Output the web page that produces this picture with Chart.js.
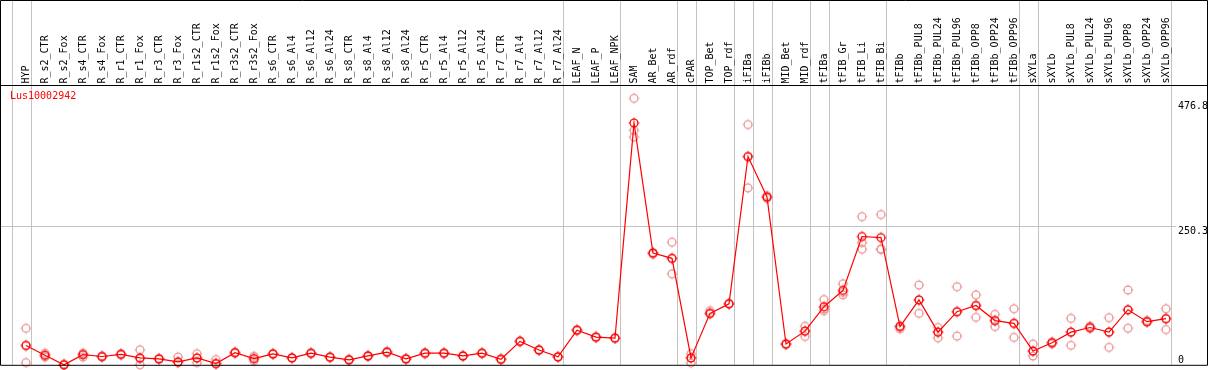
<!DOCTYPE html>
<html>
<head>
<meta charset="utf-8">
<title>Lus10002942</title>
<script src="https://cdn.jsdelivr.net/npm/chart.js@4"></script>
<style>
  body { margin: 0; background: #fff; }
  canvas { display: block; }
</style>
</head>
<body>
<canvas id="chart-canvas" width="1209" height="370"></canvas>
<script>
let geneName = "Lus10002942";

let samples = ["HYP", "R_s2_CTR", "R_s2_Fox", "R_s4_CTR", "R_s4_Fox", "R_r1_CTR", "R_r1_Fox",
  "R_r3_CTR", "R_r3_Fox", "R_r1s2_CTR", "R_r1s2_Fox", "R_r3s2_CTR", "R_r3s2_Fox",
  "R_s6_CTR", "R_s6_Al4", "R_s6_Al12", "R_s6_Al24", "R_s8_CTR", "R_s8_Al4", "R_s8_Al12", "R_s8_Al24",
  "R_r5_CTR", "R_r5_Al4", "R_r5_Al12", "R_r5_Al24", "R_r7_CTR", "R_r7_Al4", "R_r7_Al12", "R_r7_Al24",
  "LEAF_N", "LEAF_P", "LEAF_NPK", "SAM", "AR_Bet", "AR_rdf", "cPAR", "TOP_Bet", "TOP_rdf",
  "iFIBa", "iFIBb", "MID_Bet", "MID_rdf", "tFIBa", "tFIB_Gr", "tFIB_Li", "tFIB_Bi", "tFIBb",
  "tFIBb_PUL8", "tFIBb_PUL24", "tFIBb_PUL96", "tFIBb_OPP8", "tFIBb_OPP24", "tFIBb_OPP96",
  "sXYLa", "sXYLb", "sXYLb_PUL8", "sXYLb_PUL24", "sXYLb_PUL96", "sXYLb_OPP8", "sXYLb_OPP24", "sXYLb_OPP96"];

// mean expression (red line)
let meanValues = [35, 17.3, 0, 18.4, 15, 19, 12.5, 10.7, 5.4, 12.5, 2.3, 22, 11.3,
  19.7, 12.5, 21, 13.8, 9, 16, 23, 10.7, 21, 21, 16, 21, 10, 42.4, 26.8, 14.3,
  62.6, 50, 48.3, 437.5, 202, 192.6, 12.5, 93, 110.3, 376.7, 303.4, 37.5, 60.8, 105, 134.6, 232, 230, 69.2,
  117.5, 59, 96, 107.3, 80, 75, 25, 39.9, 59, 67.4, 59, 99.6, 78, 83.5];

// single replicates (pale circles)
let rep1 = [66, 21, 1, 21, 16, 20, 27, 11.5, 14, 20, 9.5, 23, 15.5,
  20.5, 13, 22, 14.5, 10, 17, 24, 11.5, 22, 22, 17, 22, 11, 43, 27.5, 15,
  63.5, 51, 49, 482, 203, 221.7, 20, 97.8, 111, 434.5, 306, 38.5, 69.7, 118, 146.6, 268, 271.8, 70.5,
  144.3, 67.5, 141.2, 126.4, 91.2, 101.4, 37.5, 41, 84, 70, 85.3, 135.3, 80, 101.4];
let rep2 = [4, 14, 0, 14, 14, 18, 0, 10, 4, 4, 2, 21, 7,
  19, 12, 20, 13, 8.5, 15, 22, 10, 20.5, 20.5, 15.5, 20.5, 9.5, 42, 26, 14,
  62, 49.5, 48, 424, 200, 164.5, 3.6, 92, 110, 320, 301, 37, 51.3, 97.8, 126.4, 221, 209, 65,
  93, 48.8, 51.9, 85.8, 69.2, 49.5, 16, 38, 35.2, 66, 31.6, 66.2, 77, 63.8];
let rep3 = [35, 17, 0, 19, 15, 19, 11, 11, 5, 12, 2, 22, 11,
  19.5, 12.5, 21, 14, 9, 16, 23, 11, 21, 21, 16, 21, 10, 42.4, 26.8, 14,
  62.6, 50, 48.3, 412, 202, 192, 12.5, 93, 110, 376, 303.4, 37.5, 61, 101, 131, 209, 209, 69,
  117, 59, 96, 107, 80, 75, 24, 40, 59, 67.4, 59, 99, 78, 83.5];

let yTicks = [0, 250.3, 476.8];

// index of the last sample in each group, grey separator drawn after it
let groupEnds = [-1, 0, 28, 31, 34, 35, 37, 38, 39, 41, 42, 45, 52, 53, 60];

let monoFont = '10px "DejaVu Sans Mono", "Liberation Mono", monospace';

function makeMarker(color) {
  let c = document.createElement("canvas");
  c.width = 14;
  c.height = 14;
  let g = c.getContext("2d");
  g.strokeStyle = color;
  g.lineWidth = 1.3;
  g.beginPath();
  g.arc(7, 7, 3.9, 0, Math.PI * 2);
  g.stroke();
  g.lineWidth = 1;
  g.beginPath();
  g.moveTo(7, 1.6); g.lineTo(7, 2.8);
  g.moveTo(7, 11.2); g.lineTo(7, 12.4);
  g.moveTo(1.6, 7); g.lineTo(2.8, 7);
  g.moveTo(11.2, 7); g.lineTo(12.4, 7);
  g.stroke();
  return c;
}

let redMarker = makeMarker("rgb(255,0,0)");
let paleMarker = makeMarker("rgb(236,150,150)");

let frame = {
  id: "frame",
  beforeDatasetsDraw: function (chart) {
    let ctx = chart.ctx;
    let xs = chart.scales.x;
    let ys = chart.scales.y;
    let area = chart.chartArea;
    let step = xs.getPixelForValue(1) - xs.getPixelForValue(0);
    ctx.save();
    ctx.strokeStyle = "#c3c3c3";
    ctx.lineWidth = 1;
    ctx.beginPath();
    groupEnds.forEach(function (i) {
      let px = Math.round(xs.getPixelForValue(i) + step * 0.27) + 0.5;
      ctx.moveTo(px, 0);
      ctx.lineTo(px, area.bottom);
    });
    let gy = Math.round(ys.getPixelForValue(yTicks[1])) + 0.5;
    ctx.moveTo(0, gy);
    ctx.lineTo(area.right + 10, gy);
    ctx.stroke();
    ctx.restore();
  },
  afterDatasetsDraw: function (chart) {
    let ctx = chart.ctx;
    let xs = chart.scales.x;
    let ys = chart.scales.y;
    let area = chart.chartArea;
    ctx.save();

    // sample names, rotated
    ctx.font = monoFont;
    ctx.fillStyle = "#000";
    ctx.textAlign = "left";
    ctx.textBaseline = "middle";
    samples.forEach(function (name, i) {
      ctx.save();
      ctx.translate(xs.getPixelForValue(i), area.top - 1.5);
      ctx.rotate(-Math.PI / 2);
      ctx.fillText(name, 0, 0);
      ctx.restore();
    });

    // value labels on the right
    ctx.textBaseline = "alphabetic";
    yTicks.forEach(function (t) {
      let py = ys.getPixelForValue(t);
      let label = String(t);
      if (t === 0) {
        ctx.fillText(label, area.right + 12, py - 2);
      } else {
        ctx.fillText(label, area.right + 12, py + 8);
      }
    });

    ctx.fillStyle = "rgb(255,0,0)";
    ctx.textBaseline = "top";
    ctx.fillText(geneName, 10, area.top + 6);

    // borders
    ctx.strokeStyle = "#000";
    ctx.lineWidth = 1;
    ctx.beginPath();
    ctx.rect(0.5, 0.5, chart.width - 2, area.bottom);
    ctx.moveTo(0, area.top + 0.5);
    ctx.lineTo(chart.width - 1, area.top + 0.5);
    ctx.stroke();
    ctx.restore();
  }
};

function paleSet(values) {
  return {
    data: values,
    showLine: false,
    pointStyle: paleMarker,
    pointRadius: 4,
    pointHoverRadius: 4,
    clip: false
  };
}

let chart1 = new Chart(document.getElementById("chart-canvas").getContext("2d"), {
  type: "line",
  data: {
    labels: samples,
    datasets: [
      {
        data: meanValues,
        borderColor: "rgb(255,0,0)",
        borderWidth: 1.2,
        tension: 0,
        pointStyle: redMarker,
        pointRadius: 4,
        pointHoverRadius: 4,
        clip: false
      },
      paleSet(rep1),
      paleSet(rep2),
      paleSet(rep3)
    ]
  },
  options: {
    responsive: false,
    animation: false,
    devicePixelRatio: 1,
    layout: { padding: { left: 26, right: 43, top: 85, bottom: 2 } },
    plugins: { legend: { display: false }, tooltip: { enabled: false } },
    scales: {
      x: { type: "category", display: false, offset: false },
      y: { display: false, min: 0, max: 506 }
    }
  },
  plugins: [frame]
});
</script>
</body>
</html>
